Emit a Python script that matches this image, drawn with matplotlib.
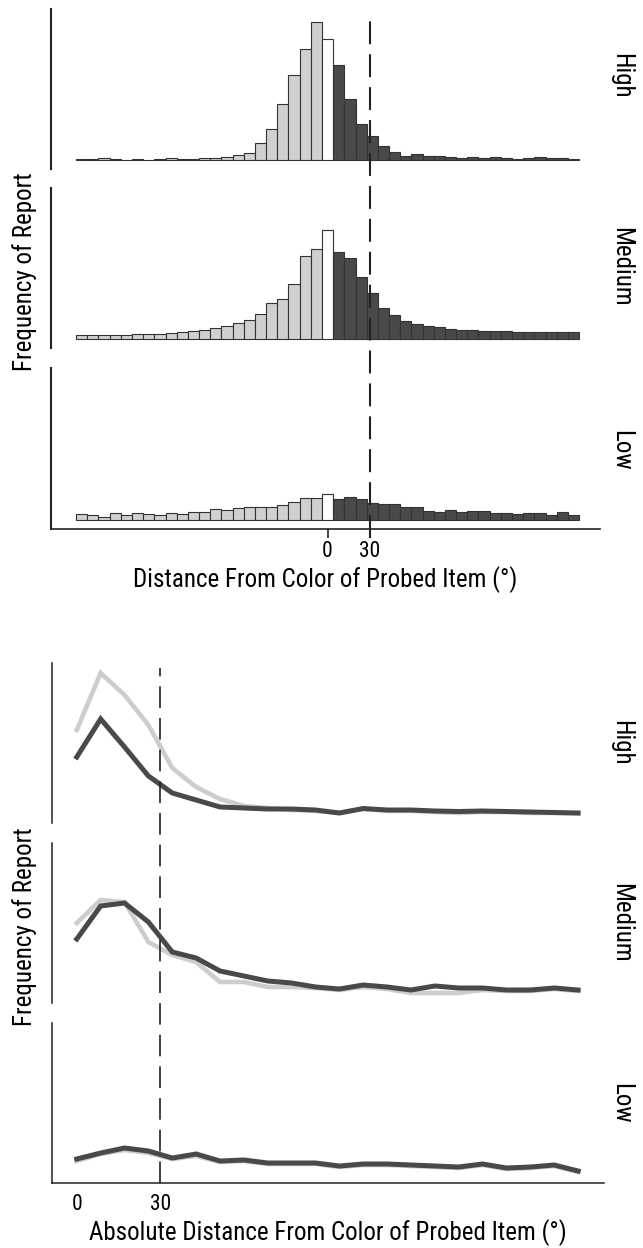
import numpy as np
import matplotlib
matplotlib.use("Agg")
import matplotlib.pyplot as plt
from matplotlib.lines import Line2D
from matplotlib.transforms import blended_transform_factory

plt.rcParams['font.family'] = ['Roboto Condensed', 'Liberation Sans Narrow', 'DejaVu Sans']

conditions = ["High", "Medium", "Low"]

# signed distance histogram, 45 bins of 8 deg (centres -176 .. 176)
bin_centers = np.arange(-176, 177, 8)
hist_high = [2, 3, 5, 4, 1, 2, 1, 2, 5, 4, 3, 5, 5, 8, 14, 21, 50, 93, 167, 256, 333, 413,
             363,
             286, 183, 109, 73, 43, 25, 12, 19, 12, 12, 9, 5, 9, 6, 9, 5, 3, 5, 8, 5, 5, 3]
hist_medium = [12, 11, 11, 12, 12, 14, 14, 16, 18, 21, 24, 27, 32, 40, 48, 58, 75, 108, 120, 166, 248, 270,
               327,
               262, 242, 187, 139, 94, 72, 54, 45, 39, 36, 30, 27, 27, 25, 24, 24, 22, 22, 21, 21, 22, 21]
hist_low = [19, 15, 10, 20, 14, 22, 19, 16, 22, 19, 25, 24, 32, 31, 35, 39, 40, 40, 46, 54, 64, 64,
            76,
            62, 68, 61, 50, 47, 47, 40, 39, 28, 25, 29, 25, 27, 28, 21, 22, 17, 22, 20, 14, 25, 14]

# absolute distance, two curves per condition
abs_x = np.linspace(0, 180, 22)
light_high = [93, 150, 128, 98, 55, 36, 24, 17, 15, 13, 12, 10, 14, 12, 12, 11, 10, 11, 11, 10, 10, 9.5]
dark_high = [66, 104, 76, 47, 30, 23, 16, 15, 14, 14, 13, 10, 14.5, 13, 13, 12, 11.5, 12, 11.5, 11, 10.5, 10]
light_medium = [80, 103, 101, 61, 48, 41, 21, 21, 16, 16, 15, 13, 16, 14, 10, 10, 10, 13, 12, 12, 14, 12]
dark_medium = [64, 97, 100, 81, 51, 45, 32, 27, 22, 20, 16, 14, 18, 16, 13, 17, 15, 15, 13, 13, 15, 13]
light_low = [22, 29, 33, 30, 24, 27, 21, 22, 19, 19, 19, 16, 18, 18, 17, 16, 15, 18, 14, 15, 17, 11]
dark_low = [24, 30, 35, 32, 25, 29, 22, 23, 20, 20, 20, 17, 19, 19, 18, 17, 16, 19, 15, 16, 18, 12]

hists = [hist_high, hist_medium, hist_low]
lights = [light_high, light_medium, light_low]
darks = [dark_high, dark_medium, dark_low]

W, H = 643, 1248
fig = plt.figure(figsize=(W / 100, H / 100), dpi=100)

LIGHT = "#d0d0d0"
DARK = "#494949"
EDGE = "#333333"

bar_colors = [LIGHT] * 22 + ["white"] + [DARK] * 22

top_rows = [(9, 169), (188, 348), (368, 529)]
top_label_y = [76, 267, 450]
bot_rows = [(663, 823), (843, 1003), (1023, 1183)]

top_axes = []
for i, (y0, y1) in enumerate(top_rows):
    ax = fig.add_axes([51 / W, 1 - y1 / H, 549 / W, (y1 - y0) / H])
    ax.bar(bin_centers, hists[i], width=8, color=bar_colors, edgecolor=EDGE, linewidth=0.8)
    ax.set_xlim(-198, 195)
    ax.set_ylim(-27, 453)
    for s in ["top", "right"]:
        ax.spines[s].set_visible(False)
    ax.spines["left"].set_linewidth(1.5)
    ax.spines["left"].set_color("#222222")
    ax.set_yticks([])
    if i < 2:
        ax.spines["bottom"].set_visible(False)
        ax.set_xticks([])
    else:
        ax.spines["bottom"].set_linewidth(1.2)
        ax.spines["bottom"].set_color("#222222")
        ax.set_xticks([0, 30])
        ax.tick_params(axis="x", length=6.5, width=1.2, color="#222222", labelsize=15.5, pad=2)
        ax.set_xlabel("Distance From Color of Probed Item (\u00b0)", fontsize=18, labelpad=3)
    fig.text(621 / W, 1 - top_label_y[i] / H, conditions[i], rotation=270,
             ha="center", va="center", fontsize=18)
    top_axes.append(ax)

bot_axes = []
for i, (y0, y1) in enumerate(bot_rows):
    ax = fig.add_axes([52 / W, 1 - y1 / H, 552 / W, (y1 - y0) / H])
    ax.plot(abs_x, lights[i], color="#cdcdcd", linewidth=3.3, solid_joinstyle="miter")
    ax.plot(abs_x, darks[i], color=DARK, linewidth=3.6, solid_joinstyle="miter")
    ax.set_xlim(-8.9, 189.3)
    ax.set_ylim(0, 160)
    for s in ["top", "right"]:
        ax.spines[s].set_visible(False)
    ax.spines["left"].set_linewidth(1.1)
    ax.spines["left"].set_color("#222222")
    ax.set_yticks([])
    if i < 2:
        ax.spines["bottom"].set_visible(False)
        ax.set_xticks([])
    else:
        ax.spines["bottom"].set_linewidth(1.1)
        ax.spines["bottom"].set_color("#222222")
        ax.set_xticks([0, 30])
        ax.tick_params(axis="x", length=0, labelsize=15.5, pad=8)
        ax.set_xlabel("Absolute Distance From Color of Probed Item (\u00b0)", fontsize=18, labelpad=3)
    fig.text(621 / W, 1 - (y0 + y1) / 2 / H, conditions[i], rotation=270,
             ha="center", va="center", fontsize=18)
    bot_axes.append(ax)

# dashed reference line at 30 deg spanning all panels
tr = blended_transform_factory(top_axes[2].transData, fig.transFigure)
fig.add_artist(Line2D([30, 30], [1 - 538 / H, 1 - 13 / H], transform=tr,
                      color="#222222", linewidth=1.5, dashes=(11, 4.8)))
tr = blended_transform_factory(bot_axes[2].transData, fig.transFigure)
fig.add_artist(Line2D([30, 30], [1 - 1183 / H, 1 - 668 / H], transform=tr,
                      color="#222222", linewidth=1.2, dashes=(13, 6)))

fig.text(25 / W, 1 - 272 / H, "Frequency of Report", rotation=90, ha="center", va="center", fontsize=18)
fig.text(25 / W, 1 - 927 / H, "Frequency of Report", rotation=90, ha="center", va="center", fontsize=18)

fig.savefig("out.png", dpi=100)
